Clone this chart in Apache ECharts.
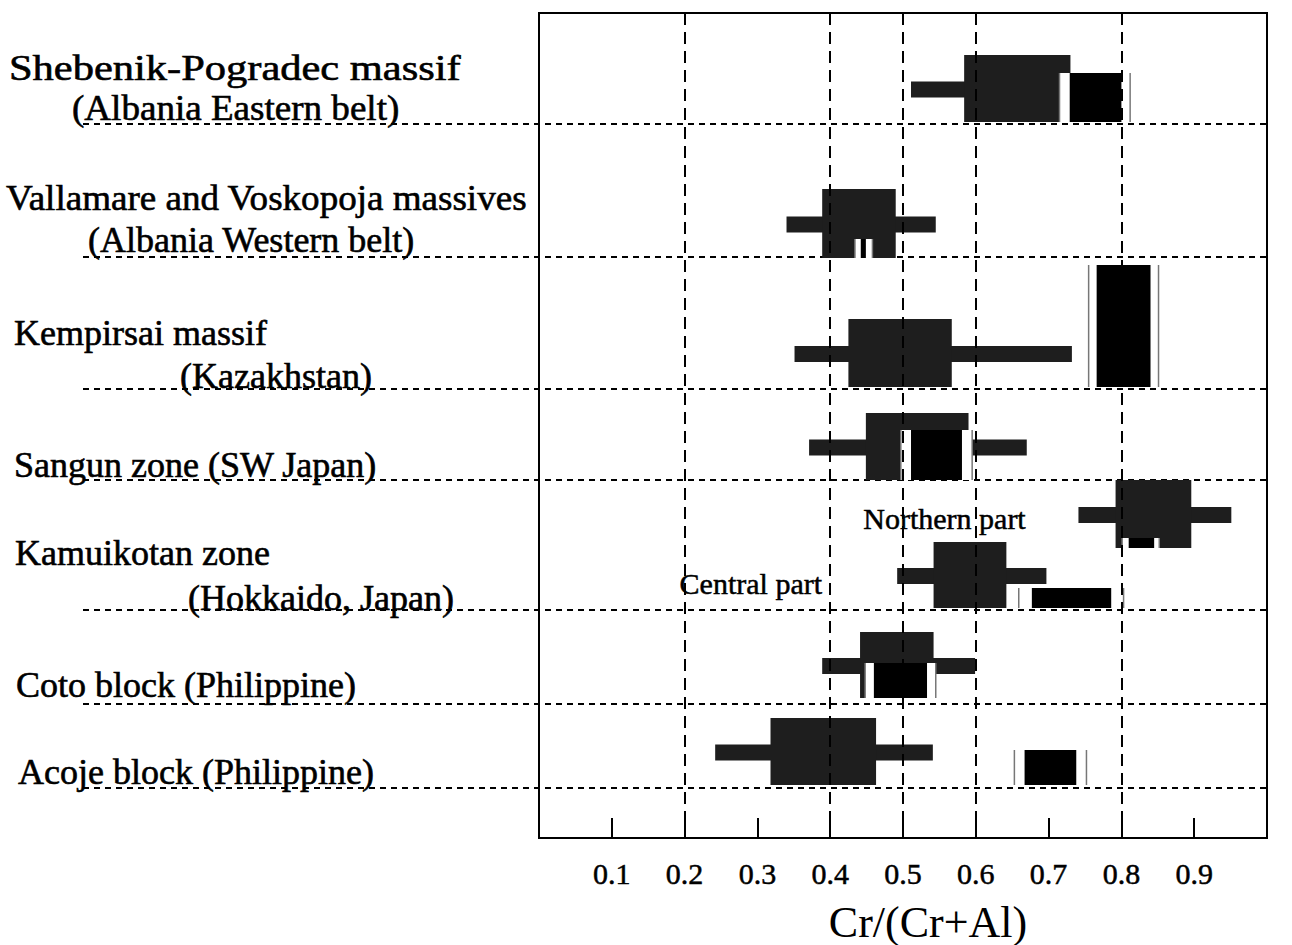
<!DOCTYPE html>
<html><head><meta charset="utf-8">
<script src="https://cdn.jsdelivr.net/npm/echarts@6/dist/echarts.min.js"></script>
<style>html,body{margin:0;padding:0;background:#fff}#c{width:1292px;height:945px}</style>
</head><body><div id="c"></div>
<script>
// ---------------- DATA (Cr/(Cr+Al) values) ----------------
const groups = [
  'Shebenik-Pogradec massif', 'Vallamare and Voskopoja massives', 'Kempirsai massif',
  'Sangun zone', 'Kamuikotan zone (Northern part)', 'Kamuikotan zone (Central part)',
  'Coto block', 'Acoje block'
];
const labelLines = [
  ['Shebenik-Pogradec massif', '(Albania Eastern belt)'],
  ['Vallamare and Voskopoja massives', '(Albania Western belt)'],
  ['Kempirsai massif', '(Kazakhstan)'],
  ['Sangun zone (SW Japan)'],
  ['Kamuikotan zone', '(Hokkaido, Japan)'],
  ['Coto block (Philippine)'],
  ['Acoje block (Philippine)']
];
// total range (thin bar)
const totalMin = [0.511, 0.340, 0.351, 0.371, 0.741, 0.492, 0.389, 0.242];
const totalMax = [0.730, 0.545, 0.732, 0.670, 0.951, 0.697, 0.599, 0.541];
// main range (stippled box)
const mainMin  = [0.584, 0.389, 0.425, 0.449, 0.792, 0.542, 0.441, 0.318];
const mainMax  = [0.730, 0.490, 0.567, 0.590, 0.896, 0.642, 0.542, 0.463];
// high-Cr population (solid black) and its outline range
const highMin  = [0.729, 0.442, 0.766, 0.511, 0.810, 0.677, 0.460, 0.667];
const highMax  = [0.800, 0.449, 0.840, 0.581, 0.845, 0.786, 0.533, 0.738];
const envMin   = [0.715, 0.434, 0.755, 0.497, 0.801, 0.659, 0.448, 0.653];
const envMax   = [0.812, 0.458, 0.851, 0.595, 0.852, 0.803, 0.545, 0.752];
const tickLabels = ['0.1','0.2','0.3','0.4','0.5','0.6','0.7','0.8','0.9'];
const gridLineValues = [0.2, 0.4, 0.5, 0.6, 0.8];
const annotationTexts = ['Northern part', 'Central part'];
const axisTitle = 'Cr/(Cr+Al)';

// ---------------- LAYOUT (vertical positions in y-axis units, styles) ----------------
const Y_MAX = 825;
const boxTop    = [42, 176, 306, 400, 467, 529, 619, 705];
const boxBottom = [109, 245, 374, 467, 535, 595, 685, 772];
const highTop   = [60, 226, 252, 417, 525, 575, 650, 737];
const separatorsY = [111, 244, 376, 467, 597, 691, 775];
const labelY = [[55, 95], [185, 227], [320, 363], [452], [540, 585], [672], [759]];
const labelXpx = [[9, 72], [6, 88], [14, 180], [14], [15, 188], [16], [18]];
const labelScaleX = [[1.18, 1.03], [1.03, 1.0], [1, 1], [1, 1], [1, 1], [1, 1], [1, 1]];
const annotationPos = [[0.557, 505], [0.291, 570]];
const SEP_LEFT_PX = 83;
const FONT = '"Liberation Serif","Times New Roman",serif';
const STIPPLE = '#1e1e1e';

const chart = echarts.init(document.getElementById('c'), null, {renderer: 'svg'});

const rowData = groups.map((g, i) => [i]);

function renderRow(params, api) {
  const i = api.value(0);
  const X = v => api.coord([v, 0])[0];
  const Y = v => api.coord([0, v])[1];
  const t = Y(boxTop[i]), b = Y(boxBottom[i]);
  const mid = (t + b) / 2 + 1;
  const ht = Y(highTop[i]);
  const kids = [];
  kids.push({type: 'rect', shape: {x: X(totalMin[i]), y: mid - 8, width: X(totalMax[i]) - X(totalMin[i]), height: 16}, style: {fill: STIPPLE}});
  kids.push({type: 'rect', shape: {x: X(mainMin[i]), y: t, width: X(mainMax[i]) - X(mainMin[i]), height: b - t}, style: {fill: STIPPLE}});
  kids.push({type: 'rect', shape: {x: X(envMin[i]), y: ht, width: X(envMax[i]) - X(envMin[i]), height: b - ht}, style: {fill: '#fff'}});
  kids.push({type: 'line', shape: {x1: X(envMin[i]), y1: ht, x2: X(envMin[i]), y2: b}, style: {stroke: '#777', lineWidth: 1.5}});
  kids.push({type: 'line', shape: {x1: X(envMax[i]), y1: ht, x2: X(envMax[i]), y2: b}, style: {stroke: '#777', lineWidth: 1.5}});
  kids.push({type: 'rect', shape: {x: X(highMin[i]), y: ht, width: X(highMax[i]) - X(highMin[i]), height: b - ht}, style: {fill: '#000'}});
  return {type: 'group', children: kids};
}

function renderSeparator(params, api) {
  const y = api.coord([0, api.value(0)])[1];
  const cs = params.coordSys;
  return {type: 'line', shape: {x1: SEP_LEFT_PX, y1: y, x2: cs.x + cs.width, y2: y},
          style: {stroke: '#000', lineWidth: 2, lineDash: [6, 5]}};
}

function renderLabels(params, api) {
  const i = api.value(0);
  const kids = labelLines[i].map((txt, k) => ({
    type: 'text',
    x: labelXpx[i][k], y: api.coord([0, labelY[i][k]])[1],
    scaleX: labelScaleX[i][k],
    style: {text: txt, x: 0, y: 0, fill: '#000', stroke: '#000', lineWidth: 0.6,
            font: '36px ' + FONT, textVerticalAlign: 'middle', verticalAlign: 'middle'}
  }));
  return {type: 'group', children: kids};
}

function renderAnnot(params, api) {
  const i = api.value(0);
  const p = api.coord(annotationPos[i]);
  return {type: 'text', style: {text: annotationTexts[i], x: p[0], y: p[1], fill: '#000', stroke: '#000', lineWidth: 0.5,
          font: '30px ' + FONT, align: 'center', verticalAlign: 'middle', textAlign: 'center', textVerticalAlign: 'middle'}};
}

chart.setOption({
  backgroundColor: '#fff',
  animation: false,
  grid: {left: 539, top: 13, width: 728, height: Y_MAX, outerBoundsMode: 'none', containLabel: false,
         show: true, borderColor: '#000', borderWidth: 2, backgroundColor: 'transparent'},
  xAxis: {
    type: 'value', min: 0, max: 1, interval: 0.1, position: 'bottom',
    axisLine: {show: true, onZero: false, lineStyle: {color: '#000', width: 2}},
    axisTick: {show: true, inside: true, length: 20, lineStyle: {color: '#000', width: 2}},
    axisLabel: {
      color: '#000', fontFamily: FONT, fontSize: 30, margin: 20, textBorderColor: '#000', textBorderWidth: 0.5,
      formatter: v => { const k = Math.round(v * 10) - 1; return (k >= 0 && k < tickLabels.length) ? tickLabels[k] : ''; }
    },
    splitLine: {show: false},
    name: axisTitle, nameLocation: 'middle', nameGap: 62,
    nameTextStyle: {color: '#000', fontFamily: FONT, fontSize: 44, padding: [0, 0, 0, 50]}
  },
  yAxis: {type: 'value', min: 0, max: Y_MAX, inverse: true, show: false, splitLine: {show: false}},
  series: [
    {
      type: 'custom', name: 'separators', clip: false, silent: true,
      data: separatorsY.map(v => [v]), encode: {y: 0}, renderItem: renderSeparator, z: 1,
      markLine: {
        silent: true, symbol: 'none', label: {show: false},
        lineStyle: {color: '#000', width: 2, type: [12, 7]},
        data: gridLineValues.map(v => ({xAxis: v}))
      }
    },
    {type: 'custom', name: 'ranges', clip: false, silent: true, data: rowData, encode: {y: 0}, renderItem: renderRow, z: 3},
    {type: 'custom', name: 'labels', clip: false, silent: true, data: labelLines.map((l, i) => [i]), encode: {y: 0}, renderItem: renderLabels, z: 4},
    {type: 'custom', name: 'annotations', clip: false, silent: true, data: annotationTexts.map((t, i) => [i]), encode: {y: 0}, renderItem: renderAnnot, z: 4}
  ]
});
</script></body></html>
